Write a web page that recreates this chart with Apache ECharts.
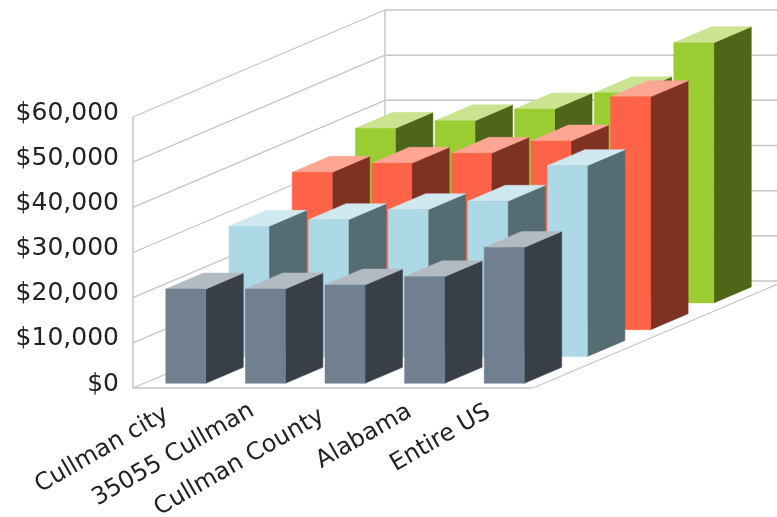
<!DOCTYPE html>
<html><head><meta charset="utf-8">
<style>html,body{margin:0;padding:0;background:#fff}#c{width:777px;height:517px}</style>
<script src="https://cdn.jsdelivr.net/npm/echarts@6/dist/echarts.min.js"></script>
</head><body><div id="c"></div>
<script>
const categories = ['Cullman city', '35055 Cullman', 'Cullman County', 'Alabama', 'Entire US'];
const yTicks = [0, 10000, 20000, 30000, 40000, 50000, 60000];
const grayValues  = [20860, 20900, 21750, 23600, 30090];
const blueValues  = [28830, 30300, 32500, 34360, 42260];
const redValues   = [34850, 36840, 39050, 41770, 51550];
const greenValues = [38650, 40330, 42920, 46530, 57590];

const WALL = '#c6c6c6';
const DEPTH = [252, -107];      // full floor depth on screen
const ROW = [63.2, -26.8];      // shift between rows
const BASE = [11, -4.7];        // first row's inset from the front edge
const SIDE = [37.5, -16];       // depth of one bar
const BAR_W = 40;
const FLOOR_EXTRA = 2;          // floor runs slightly past the last band
const LABEL_PAD = [7, 0, 11, 2, 3]; // per-label nudge along the slanted text

function barSeries(name, values, row, front, top, side) {
  return {
    name, type: 'custom', coordinateSystem: 'cartesian2d', silent: true,
    data: values.map((v, i) => [i, v]),
    encode: {x: 0, y: 1},
    renderItem(params, api) {
      const i = api.value(0), v = api.value(1);
      const t = api.coord([i, v]), b = api.coord([i, 0]);
      const ox = BASE[0] + ROW[0] * row - 18, oy = BASE[1] + ROW[1] * row;
      const x0 = t[0] + ox, x1 = x0 + BAR_W, yT = t[1] + oy, yB = b[1] + oy;
      const sx = SIDE[0], sy = SIDE[1];
      const poly = (points, fill) => ({type: 'polygon', shape: {points}, style: {fill, stroke: fill, lineWidth: 0.5}});
      return {type: 'group', children: [
        poly([[x1, yT], [x1 + sx, yT + sy], [x1 + sx, yB + sy], [x1, yB]], side),
        poly([[x0, yT], [x0 + sx, yT + sy], [x1 + sx, yT + sy], [x1, yT]], top),
        poly([[x0, yT], [x1, yT], [x1, yB], [x0, yB]], front)
      ]};
    }
  };
}

const wallSeries = {
  name: 'walls', type: 'custom', coordinateSystem: 'cartesian2d', silent: true,
  data: yTicks.map(v => [0, v]),
  encode: {x: 0, y: 1},
  renderItem(params, api) {
    const cs = params.coordSys, y = api.coord([0, api.value(1)])[1];
    const left = cs.x, right = cs.x + cs.width + FLOOR_EXTRA;
    const bx = left + DEPTH[0], by = y + DEPTH[1];
    const line = (a, b, w) => ({type: 'line', shape: {x1: a[0], y1: a[1], x2: b[0], y2: b[1]},
      style: {stroke: WALL, lineWidth: w}});
    const kids = [
      line([left, y], [bx, by], 1.2),
      line([bx, by], [right + DEPTH[0], by], 1.5)
    ];
    if (api.value(1) === 0) {
      const top = api.coord([0, yTicks[yTicks.length - 1]])[1];
      kids.push(line([left, y], [right, y], 1.5));
      kids.push(line([right, y], [right + DEPTH[0], by], 1.2));
      kids.push(line([left, y], [left, top], 1.5));
      kids.push(line([bx, by], [bx, top + DEPTH[1]], 1.5));
    }
    return {type: 'group', children: kids};
  }
};

const chart = echarts.init(document.getElementById('c'), null, {renderer: 'canvas'});
chart.setOption({
  animation: false,
  backgroundColor: '#fff',
  grid: {left: 133, top: 117, width: 398, height: 271, containLabel: false, outerBoundsMode: 'none'},
  xAxis: {
    type: 'category',
    data: categories.map((value, i) => ({value, textStyle: {padding: [0, LABEL_PAD[i], 0, 0]}})),
    axisLine: {show: false}, axisTick: {show: false}, splitLine: {show: false},
    axisLabel: {interval: 0, rotate: 30, margin: 21, fontFamily: 'DejaVu Sans', fontSize: 24, color: '#222', hideOverlap: false}
  },
  yAxis: {
    type: 'value', min: 0, max: 60000, interval: 10000,
    axisLine: {show: false}, axisTick: {show: false}, splitLine: {show: false},
    axisLabel: {margin: 14, fontFamily: 'DejaVu Sans', fontSize: 25, color: '#222', verticalAlign: 'bottom', lineHeight: 8,
      formatter: v => '$' + v.toLocaleString('en-US')}
  },
  series: [
    wallSeries,
    barSeries('Series 4', greenValues, 3, '#9ACD32', '#CBE492', '#4D6619'),
    barSeries('Series 3', redValues, 2, '#FF6347', '#FFA594', '#7F3123'),
    barSeries('Series 2', blueValues, 1, '#ADD8E6', '#D0E8F0', '#566C73'),
    barSeries('Series 1', grayValues, 0, '#708090', '#B2BAC2', '#383F47')
  ]
});
</script></body></html>
